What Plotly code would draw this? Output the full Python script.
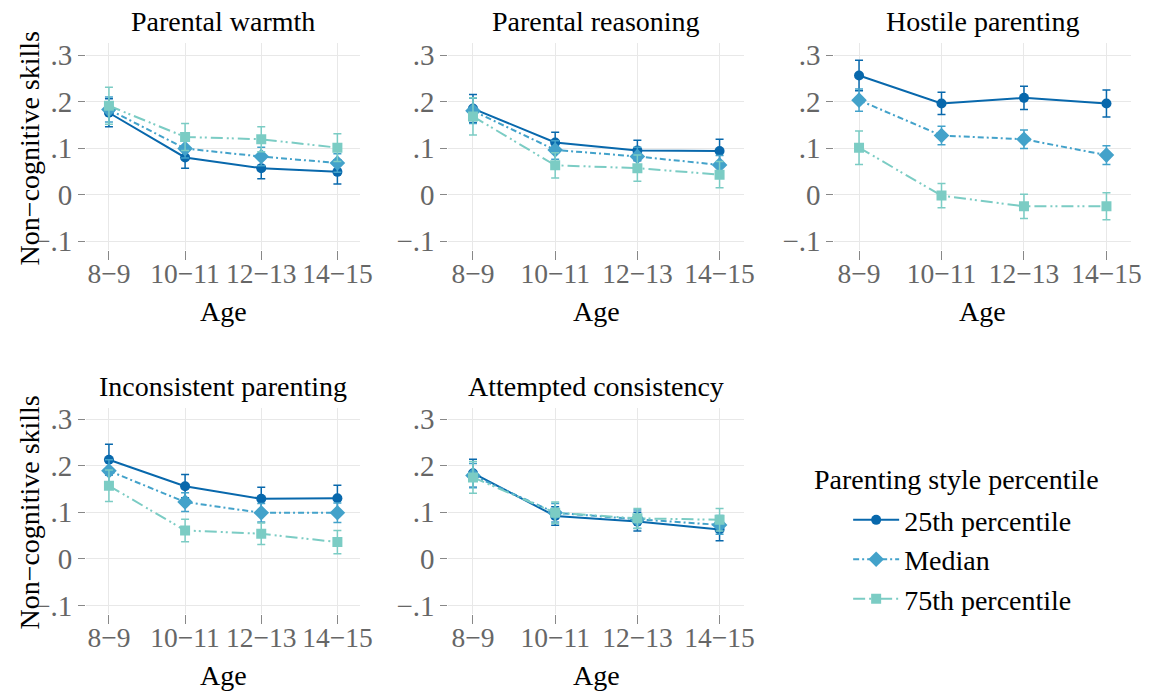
import plotly.graph_objects as go

ages = ["8−9", "10−11", "12−13", "14−15"]
panels = ["Parental warmth", "Parental reasoning", "Hostile parenting",
          "Inconsistent parenting", "Attempted consistency"]
series_names = ["25th percentile", "Median", "75th percentile"]
legend_title = "Parenting style percentile"

# values per panel: [25th, median, 75th]
warmth_p25 = [0.176, 0.080, 0.057, 0.049]
warmth_med = [0.183, 0.099, 0.082, 0.068]
warmth_p75 = [0.191, 0.124, 0.119, 0.101]
warmth_e25 = [0.030, 0.023, 0.023, 0.026]
warmth_emed = [0.027, 0.020, 0.020, 0.020]
warmth_e75 = [0.040, 0.029, 0.027, 0.030]

reason_p25 = [0.185, 0.112, 0.095, 0.094]
reason_med = [0.180, 0.096, 0.082, 0.064]
reason_p75 = [0.168, 0.063, 0.057, 0.043]
reason_e25 = [0.030, 0.022, 0.022, 0.025]
reason_emed = [0.027, 0.020, 0.020, 0.020]
reason_e75 = [0.040, 0.027, 0.028, 0.028]

hostile_p25 = [0.256, 0.196, 0.208, 0.196]
hostile_med = [0.203, 0.127, 0.119, 0.085]
hostile_p75 = [0.101, -0.002, -0.025, -0.025]
hostile_e25 = [0.033, 0.024, 0.025, 0.029]
hostile_emed = [0.024, 0.020, 0.020, 0.020]
hostile_e75 = [0.036, 0.026, 0.026, 0.029]

incons_p25 = [0.213, 0.156, 0.129, 0.130]
incons_med = [0.189, 0.122, 0.099, 0.099]
incons_p75 = [0.157, 0.061, 0.054, 0.036]
incons_e25 = [0.033, 0.025, 0.025, 0.028]
incons_emed = [0.024, 0.020, 0.020, 0.021]
incons_e75 = [0.034, 0.024, 0.023, 0.025]

attempt_p25 = [0.184, 0.092, 0.080, 0.063]
attempt_med = [0.179, 0.099, 0.085, 0.073]
attempt_p75 = [0.175, 0.099, 0.087, 0.084]
attempt_e25 = [0.030, 0.020, 0.020, 0.024]
attempt_emed = [0.026, 0.020, 0.020, 0.020]
attempt_e75 = [0.034, 0.023, 0.021, 0.024]

panel_values = [
    (warmth_p25, warmth_med, warmth_p75),
    (reason_p25, reason_med, reason_p75),
    (hostile_p25, hostile_med, hostile_p75),
    (incons_p25, incons_med, incons_p75),
    (attempt_p25, attempt_med, attempt_p75),
]
panel_errors = [
    (warmth_e25, warmth_emed, warmth_e75),
    (reason_e25, reason_emed, reason_e75),
    (hostile_e25, hostile_emed, hostile_e75),
    (incons_e25, incons_emed, incons_e75),
    (attempt_e25, attempt_emed, attempt_e75),
]

y_tickvals = [-0.1, 0, 0.1, 0.2, 0.3]
y_ticktext = ["−.1", "0", ".1", ".2", ".3"]

colors = ["#0868ac", "#43a2ca", "#7bccc4"]
symbols = ["circle", "diamond", "square"]
msizes = [10, 12, 10]
dashes = ["solid", "6px,3px,2px,3px", "12px,4px,2px,3px,2px,4px"]

W, H = 1162, 700
FONT = "Liberation Serif"

# pixel geometry of panels
col_px = [(87, 364), (453, 752), (843, 1143)]
row_px = [(40, 250), (410, 620)]
positions = [(0, 0), (0, 1), (0, 2), (1, 0), (1, 1)]

fig = go.Figure()
annotations = []
for i, (title, vals, errs) in enumerate(zip(panels, panel_values, panel_errors)):
    r, c = positions[i]
    ax = "" if i == 0 else str(i + 1)
    xname, yname = "x" + ax, "y" + ax
    for k in range(3):
        fig.add_trace(go.Scatter(
            x=list(range(len(ages))), y=vals[k],
            mode="lines+markers",
            name=series_names[k],
            legendgroup=series_names[k],
            showlegend=(i == 0),
            line=dict(color=colors[k], width=2, dash=dashes[k]),
            marker=dict(symbol=symbols[k], size=msizes[k], color=colors[k]),
            error_y=dict(type="data", array=errs[k], color=colors[k],
                         thickness=1.5, width=4),
            xaxis=xname, yaxis=yname,
        ))
    x0, x1 = col_px[c]
    y0, y1 = row_px[r]
    xdom = [x0 / W, x1 / W]
    ydom = [1 - y1 / H, 1 - y0 / H]
    fig.update_layout(**{
        "xaxis" + ax: dict(
            domain=xdom, anchor=yname, range=[-0.3, 3.3],
            tickvals=list(range(len(ages))), ticktext=ages, tickangle=0,
            showgrid=True, gridcolor="#e8e8e8", gridwidth=1,
            zeroline=False, showline=False,
            ticks="outside", ticklen=9, tickcolor="#888", tickwidth=1,
            ticklabelstandoff=-10,
            tickfont=dict(family=FONT, size=27.5, color="#666"),
        ),
        "yaxis" + ax: dict(
            domain=ydom, anchor=xname, range=[-0.119, 0.325],
            tickvals=y_tickvals, ticktext=y_ticktext,
            showgrid=True, gridcolor="#e8e8e8", gridwidth=1,
            zeroline=False, showline=False,
            ticks="outside", ticklen=7, tickcolor="#888", tickwidth=1,
            tickfont=dict(family=FONT, size=29, color="#666"),
        ),
    })
    xc = (xdom[0] + xdom[1]) / 2
    annotations.append(dict(
        text=title, x=xc, y=ydom[1], xref="paper", yref="paper",
        xanchor="center", yanchor="bottom", yshift=4, showarrow=False,
        font=dict(family=FONT, size=28, color="#000"),
    ))
    annotations.append(dict(
        text="Age", x=xc, y=1 - (y1 + 62) / H, xref="paper", yref="paper",
        xanchor="center", yanchor="middle", showarrow=False,
        font=dict(family=FONT, size=28, color="#000"),
    ))
    if c == 0:
        annotations.append(dict(
            text="Non−cognitive skills", x=30 / W, y=1 - (y0 + y1 + 4) / 2 / H,
            xref="paper", yref="paper", textangle=-90,
            xanchor="center", yanchor="middle", showarrow=False,
            font=dict(family=FONT, size=28, color="#000"),
        ))

annotations.append(dict(
    text=legend_title, x=820 / W, y=1 - 483 / H, xref="paper", yref="paper",
    xanchor="left", yanchor="middle", showarrow=False,
    font=dict(family=FONT, size=28, color="#000"),
))

fig.update_layout(
    width=W, height=H,
    margin=dict(l=0, r=0, t=0, b=0),
    paper_bgcolor="white", plot_bgcolor="white",
    annotations=annotations,
    legend=dict(
        font=dict(family=FONT, size=28, color="#000"),
        x=857 / W, y=1 - 499 / H, xanchor="left", yanchor="top",
        bgcolor="rgba(0,0,0,0)", itemwidth=46, tracegroupgap=0,
    ),
)

fig.write_html("out.html")
